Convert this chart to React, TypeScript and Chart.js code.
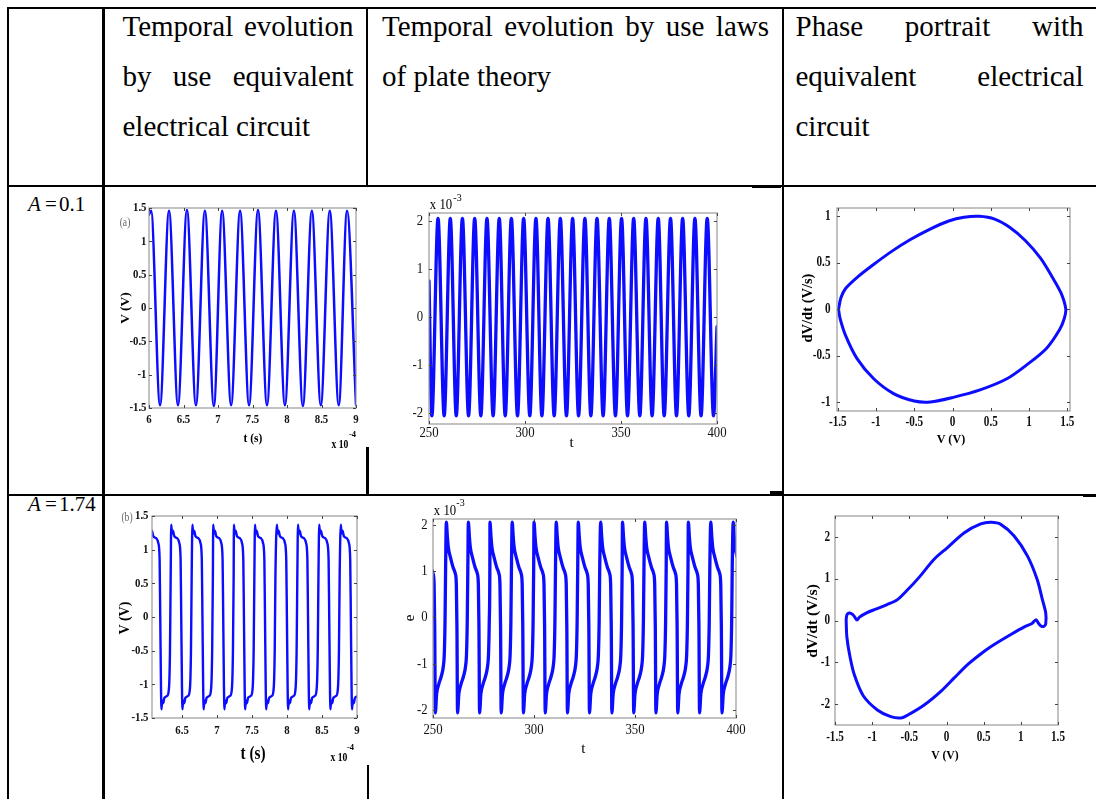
import React, { useEffect, useRef } from 'react';
import { Chart, registerables } from 'chart.js';

Chart.register(...registerables);

// ---------------- data ----------------
// (a) A = 0.1, equivalent circuit, V (V) vs t (x 1e-4 s)
const aTime = [6.00, 6.03, 6.16, 6.29, 6.42, 6.55, 6.68, 6.81, 6.94, 7.06, 7.19, 7.32, 7.45, 7.58, 7.71, 7.84, 7.97, 8.10, 8.23, 8.36, 8.49, 8.62, 8.75, 8.87, 9.00];
const aVolt = [1.40, 1.46, -1.46, 1.46, -1.46, 1.47, -1.46, 1.46, -1.47, 1.46, -1.46, 1.46, -1.46, 1.47, -1.46, 1.46, -1.46, 1.46, -1.47, 1.46, -1.46, 1.46, -1.46, 1.46, -1.45];
const aXTicks = [6, 6.5, 7, 7.5, 8, 8.5, 9];
const aYTicks = [-1.5, -1, -0.5, 0, 0.5, 1, 1.5];

// (b) A = 0.1, plate theory, strain (x 1e-3) vs t
const bTime = [250.0, 251.5, 254.7, 257.9, 261.1, 264.2, 267.4, 270.6, 273.8, 277.0, 280.2, 283.4, 286.6, 289.7, 292.9, 296.1, 299.3, 302.5, 305.7, 308.8, 312.0, 315.2, 318.4, 321.6, 324.8, 327.9, 331.2, 334.3, 337.5, 340.7, 343.9, 347.1, 350.3, 353.4, 356.6, 359.8, 363.0, 366.2, 369.4, 372.5, 375.8, 378.9, 382.1, 385.3, 388.5, 391.7, 394.9, 398.2, 400.0];
const bStrain = [0.75, -2.05, 2.05, -2.05, 2.05, -2.05, 2.05, -2.05, 2.05, -2.05, 2.05, -2.05, 2.05, -2.05, 2.05, -2.05, 2.05, -2.05, 2.05, -2.05, 2.05, -2.05, 2.05, -2.05, 2.05, -2.05, 2.05, -2.05, 2.05, -2.05, 2.05, -2.05, 2.05, -2.05, 2.05, -2.05, 2.05, -2.05, 2.05, -2.05, 2.05, -2.05, 2.05, -2.05, 2.05, -2.05, 2.05, -2.05, -0.20];
const bXTicks = [250, 300, 350, 400];
const bYTicks = [-2, -1, 0, 1, 2];

// (c) A = 0.1, phase portrait dV/dt vs V
const cV = [-1.49, -1.46, -1.40, -1.25, -1.05, -0.80, -0.55, -0.30, -0.05, 0.15, 0.35, 0.55, 0.75, 0.95, 1.15, 1.30, 1.42, 1.48, 1.46, 1.40, 1.23, 0.97, 0.71, 0.36, 0.01, -0.29, -0.50, -0.77, -1.03, -1.25, -1.40, -1.47, -1.49];
const cdVdt = [0.00, 0.12, 0.22, 0.34, 0.47, 0.62, 0.75, 0.86, 0.95, 0.99, 1.00, 0.97, 0.88, 0.74, 0.55, 0.35, 0.17, 0.00, -0.10, -0.22, -0.42, -0.60, -0.75, -0.87, -0.95, -1.00, -0.99, -0.91, -0.75, -0.53, -0.28, -0.10, 0.00];
const cXTicks = [-1.5, -1, -0.5, 0, 0.5, 1, 1.5];
const cYTicks = [-1, -0.5, 0, 0.5, 1];

// (d) A = 1.74, equivalent circuit: one cycle shape (offset from upper spike) and spike times
const dSpikeT = [6.045, 6.345, 6.648, 6.945, 7.241, 7.542, 7.855, 8.157, 8.460, 8.769];
const dShapeDt = [0, 0.010, 0.024, 0.043, 0.086, 0.115, 0.134, 0.143, 0.153, 0.160, 0.170, 0.184, 0.203, 0.244, 0.268, 0.282, 0.292];
const dShapeV = [1.37, 1.24, 1.28, 1.20, 1.17, 1.10, 0.85, 0.0, -1.0, -1.37, -1.24, -1.28, -1.20, -1.17, -1.05, -0.5, 0.6];
const dXTicks = [6.5, 7, 7.5, 8, 8.5, 9];
const dYTicks = [-1.5, -1, -0.5, 0, 0.5, 1, 1.5];

// (e) A = 1.74, plate theory: one cycle shape (offset from peak) and peak times
const ePeakT = [245.6, 256.6, 267.5, 278.2, 289.2, 300.0, 311.0, 321.9, 333.0, 343.8, 354.8, 365.6, 376.4, 387.5, 398.6];
const eShapeDt = [0, 0.5, 1.0, 2.0, 3.4, 4.4, 4.95, 5.25, 5.55, 6.2, 7.2, 8.5, 9.5, 10.0, 10.35, 10.65];
const eShapeV = [2.05, 1.75, 1.5, 1.3, 1.07, 0.95, 0.72, -0.2, -2.06, -1.65, -1.45, -1.27, -1.06, -0.78, -0.1, 1.1];
const eXTicks = [250, 300, 350, 400];
const eYTicks = [-2, -1, 0, 1, 2];

// (f) A = 1.74, phase portrait
const fV = [-1.35, -1.345, -1.33, -1.30, -1.26, -1.23, -1.205, -1.17, -1.10, -0.97, -0.80, -0.66, -0.52, -0.36, -0.17, 0.01, 0.24, 0.46, 0.60, 0.73, 0.91, 1.09, 1.22, 1.29, 1.335, 1.335, 1.31, 1.27, 1.235, 1.205, 1.15, 1.06, 0.86, 0.60, 0.46, 0.28, 0.10, -0.08, -0.30, -0.52, -0.61, -0.75, -0.93, -1.12, -1.24, -1.30, -1.34, -1.35];
const fdVdt = [0.00, 0.10, 0.16, 0.18, 0.14, 0.07, 0.01, 0.08, 0.16, 0.26, 0.38, 0.50, 0.74, 1.05, 1.46, 1.74, 2.10, 2.31, 2.35, 2.30, 2.02, 1.54, 0.98, 0.50, 0.18, -0.08, -0.14, -0.13, -0.06, 0.02, -0.07, -0.14, -0.34, -0.62, -0.80, -1.06, -1.38, -1.70, -2.02, -2.26, -2.33, -2.30, -2.14, -1.80, -1.30, -0.85, -0.40, 0.00];
const fXTicks = [-1.5, -1, -0.5, 0, 0.5, 1, 1.5];
const fYTicks = [-2, -1, 0, 1, 2];

// ---------------- helpers ----------------
const pairs = (xs: number[], ys: number[]) => xs.map((x, i) => ({ x, y: ys[i] }));
const repeatShape = (starts: number[], dt: number[], v: number[]) =>
  starts.flatMap((s) => dt.map((d, i) => ({ x: s + d, y: v[i] })));

const FONT = '"Liberation Serif", "Times New Roman", serif';
const BLUE = 'rgb(12,12,255)';
const PL = 48, PT = 12, PR = 22, PB = 26;

type Spec = {
  key: string;
  area: { l: number; t: number; r: number; b: number };
  xMin: number; xMax: number; yMin: number; yMax: number;
  xTicks: number[]; yTicks: number[];
  data: { x: number; y: number }[];
  lw: number; mono: boolean; tension: number; clip0: boolean;
  tickFont: string; squish: number; yGap: number; xDy: number;
};

function makeDeco(s: Spec) {
  return {
    id: 'deco' + s.key,
    afterDatasetsDraw(chart: any) {
      const { ctx, chartArea: a, scales } = chart;
      const xs = scales.x, ys = scales.y;
      ctx.save();
      // frame
      ctx.strokeStyle = '#9a9a9a';
      ctx.lineWidth = 1.2;
      ctx.strokeRect(a.left, a.top, a.right - a.left, a.bottom - a.top);
      // inner ticks
      const TL = 3;
      ctx.strokeStyle = '#444';
      ctx.lineWidth = 1;
      ctx.beginPath();
      for (const v of s.xTicks) {
        const px = Math.round(xs.getPixelForValue(v)) + 0.5;
        ctx.moveTo(px, a.bottom); ctx.lineTo(px, a.bottom - TL);
        ctx.moveTo(px, a.top); ctx.lineTo(px, a.top + TL);
      }
      for (const v of s.yTicks) {
        const py = Math.round(ys.getPixelForValue(v)) + 0.5;
        ctx.moveTo(a.left, py); ctx.lineTo(a.left + TL, py);
        ctx.moveTo(a.right, py); ctx.lineTo(a.right - TL, py);
      }
      ctx.stroke();
      // labels
      ctx.fillStyle = '#111';
      ctx.font = s.tickFont;
      ctx.textBaseline = 'middle';
      for (const v of s.yTicks) {
        const py = ys.getPixelForValue(v);
        ctx.save();
        ctx.translate(a.left - s.yGap, py);
        ctx.scale(s.squish, 1);
        ctx.textAlign = 'right';
        ctx.fillText(String(v), 0, 0);
        ctx.restore();
      }
      for (const v of s.xTicks) {
        const px = xs.getPixelForValue(v);
        ctx.save();
        ctx.translate(px, a.bottom + s.xDy);
        ctx.scale(s.squish, 1);
        ctx.textAlign = 'center';
        ctx.fillText(String(v), 0, 0);
        ctx.restore();
      }
      ctx.restore();
    },
  };
}

function Plot({ s }: { s: Spec }) {
  const ref = useRef<HTMLCanvasElement>(null);
  useEffect(() => {
    const c = ref.current;
    if (!c) return;
    const ds: any = {
      data: s.data,
      showLine: true,
      borderColor: BLUE,
      borderWidth: s.lw,
      pointRadius: 0,
      pointHoverRadius: 0,
      fill: false,
      tension: s.tension,
      cubicInterpolationMode: s.mono ? 'monotone' : 'default',
      borderJoinStyle: 'round',
      borderCapStyle: 'round',
    };
    if (s.clip0) ds.clip = 0;
    const chart = new Chart(c, {
      type: 'scatter',
      data: { datasets: [ds] },
      options: {
        responsive: false,
        animation: false,
        events: [],
        layout: { padding: { left: PL, top: PT, right: PR, bottom: PB } },
        plugins: { legend: { display: false }, tooltip: { enabled: false } },
        scales: {
          x: { type: 'linear', display: false, min: s.xMin, max: s.xMax },
          y: { type: 'linear', display: false, min: s.yMin, max: s.yMax },
        },
      } as any,
      plugins: [makeDeco(s) as any],
    });
    return () => chart.destroy();
  }, []);
  const w = s.area.r - s.area.l + PL + PR;
  const h = s.area.b - s.area.t + PT + PB;
  return (
    <canvas
      ref={ref}
      width={w}
      height={h}
      style={{ position: 'absolute', left: s.area.l - PL, top: s.area.t - PT, width: w, height: h }}
    />
  );
}

const BOLD13 = `bold 13.5px ${FONT}`;
const REG15 = `15px ${FONT}`;

const specs: Spec[] = [
  { key: 'a', area: { l: 149, t: 208, r: 356, b: 408 }, xMin: 6, xMax: 9, yMin: -1.5, yMax: 1.5,
    xTicks: aXTicks, yTicks: aYTicks, data: pairs(aTime, aVolt), lw: 2.5, mono: true, tension: 0, clip0: true,
    tickFont: BOLD13, squish: 0.8, yGap: 2.5, xDy: 12 },
  { key: 'b', area: { l: 429, t: 213, r: 717, b: 424 }, xMin: 250, xMax: 400, yMin: -2.22, yMax: 2.16,
    xTicks: bXTicks, yTicks: bYTicks, data: pairs(bTime, bStrain), lw: 3.3, mono: true, tension: 0, clip0: true,
    tickFont: REG15, squish: 0.85, yGap: 6, xDy: 9.5 },
  { key: 'c', area: { l: 837, t: 208, r: 1070, b: 411 }, xMin: -1.51, xMax: 1.535, yMin: -1.097, yMax: 1.09,
    xTicks: cXTicks, yTicks: cYTicks, data: pairs(cV, cdVdt), lw: 3, mono: false, tension: 0.3, clip0: false,
    tickFont: `bold 14px ${FONT}`, squish: 0.8, yGap: 6.5, xDy: 11.5 },
  { key: 'd', area: { l: 152, t: 516, r: 357, b: 718 }, xMin: 6.07, xMax: 9, yMin: -1.5, yMax: 1.5,
    xTicks: dXTicks, yTicks: dYTicks, data: repeatShape(dSpikeT, dShapeDt, dShapeV), lw: 2.4, mono: true, tension: 0, clip0: true,
    tickFont: BOLD13, squish: 0.8, yGap: 3.5, xDy: 12.5 },
  { key: 'e', area: { l: 433, t: 519, r: 736, b: 718 }, xMin: 250, xMax: 400, yMin: -2.17, yMax: 2.12,
    xTicks: eXTicks, yTicks: eYTicks, data: repeatShape(ePeakT, eShapeDt, eShapeV), lw: 3.3, mono: true, tension: 0, clip0: true,
    tickFont: REG15, squish: 0.85, yGap: 5.5, xDy: 12 },
  { key: 'f', area: { l: 835, t: 516, r: 1058, b: 725 }, xMin: -1.5, xMax: 1.5, yMin: -2.5, yMax: 2.5,
    xTicks: fXTicks, yTicks: fYTicks, data: pairs(fV, fdVdt), lw: 3, mono: false, tension: 0.3, clip0: false,
    tickFont: `bold 14px ${FONT}`, squish: 0.8, yGap: 5, xDy: 12 },
];

// ---------------- text helpers ----------------
function Txt(props: { x: number; y: number; size: number; bold?: boolean; italic?: boolean; rot?: number; sx?: number; color?: string; children: React.ReactNode }) {
  const { x, y, size, bold, italic, rot, sx, color, children } = props;
  const tf = `translate(-50%,-50%)${rot ? ` rotate(${rot}deg)` : ''}${sx ? ` scaleX(${sx})` : ''}`;
  return (
    <div style={{ position: 'absolute', left: x, top: y, transform: tf, fontFamily: FONT, fontSize: size,
      fontWeight: bold ? 'bold' : 'normal', fontStyle: italic ? 'italic' : 'normal', whiteSpace: 'nowrap',
      lineHeight: 1, color: color || '#000' }}>
      {children}
    </div>
  );
}

function Line({ l, t, w, h }: { l: number; t: number; w: number; h: number }) {
  return <div style={{ position: 'absolute', left: l, top: t, width: w, height: h, background: '#000' }} />;
}

function Header({ l, w, text }: { l: number; w: number; text: string }) {
  return (
    <div style={{ position: 'absolute', left: l, top: 1, width: w, fontFamily: FONT, fontSize: 29,
      lineHeight: '50px', textAlign: 'justify', color: '#000' }}>{text}</div>
  );
}

function RowLabel({ top, value }: { top: number; value: string }) {
  const st: React.CSSProperties = { position: 'absolute', top, fontFamily: FONT, fontSize: 21, lineHeight: '21px', color: '#000', whiteSpace: 'nowrap' };
  return (
    <>
      <div style={{ ...st, left: 28, fontStyle: 'italic' }}>A</div>
      <div style={{ ...st, left: 45 }}>=</div>
      <div style={{ ...st, left: 59 }}>{value}</div>
    </>
  );
}

export default function App() {
  return (
    <div style={{ position: 'absolute', left: 0, top: 0, width: 1096, height: 799, overflow: 'hidden', background: '#fff' }}>
      {/* table lines */}
      <Line l={7} t={6.5} w={1089} h={2} />
      <Line l={7} t={185} w={1089} h={2} />
      <Line l={7} t={493.5} w={1089} h={2} />
      <Line l={6.5} t={6.5} w={2.5} h={793} />
      <Line l={102} t={6.5} w={2.5} h={793} />
      <Line l={365.5} t={6.5} w={2} h={180} />
      <Line l={366} t={447} w={2.5} h={48} />
      <Line l={366.5} t={765} w={2.5} h={34} />
      <Line l={781.5} t={6.5} w={2.5} h={793} />
      <Line l={752} t={185} w={29} h={3} />
      <Line l={770} t={491} w={12} h={4} />
      <Line l={1083} t={493.5} w={13} h={3} />

      {/* header */}
      <Header l={122.5} w={231} text="Temporal evolution by use equivalent electrical circuit" />
      <Header l={382} w={387} text="Temporal evolution by use laws of plate theory" />
      <Header l={795.5} w={288} text="Phase portrait with equivalent electrical circuit" />

      {/* row labels */}
      <RowLabel top={194} value="0.1" />
      <RowLabel top={494} value="1.74" />

      {/* plots */}
      {specs.map((s) => <Plot key={s.key} s={s} />)}

      {/* (a) texts */}
      <Txt x={125} y={221.5} size={12} sx={0.8} color="#666">(a)</Txt>
      <Txt x={125} y={308} size={13.5} bold rot={-90}>V (V)</Txt>
      <Txt x={252.5} y={437.5} size={13.5} bold sx={0.85}>t (s)</Txt>
      <Txt x={340} y={443.5} size={12} bold sx={0.8}>x 10</Txt>
      <Txt x={352.5} y={433.5} size={8.5} bold>-4</Txt>

      {/* (b) texts */}
      <Txt x={440.8} y={203.5} size={15} sx={0.85}>x 10</Txt>
      <Txt x={457.5} y={197.5} size={10}>-3</Txt>
      <Txt x={571.7} y={441.7} size={15}>t</Txt>

      {/* (c) texts */}
      <Txt x={806.7} y={307.7} size={14.5} bold rot={-90}>dV/dt (V/s)</Txt>
      <Txt x={950.8} y={439.2} size={13.5} bold sx={0.9}>V (V)</Txt>

      {/* (d) texts */}
      <Txt x={127} y={516.7} size={12} sx={0.8} color="#666">(b)</Txt>
      <Txt x={125} y={617.5} size={14} bold rot={-90}>V (V)</Txt>
      <Txt x={252.5} y={753.3} size={18} bold sx={0.85}>t (s)</Txt>
      <Txt x={339} y={756.7} size={12} bold sx={0.8}>x 10</Txt>
      <Txt x={350.5} y={746.7} size={8.5} bold>-4</Txt>

      {/* (e) texts */}
      <Txt x={409.3} y={617.8} size={15} rot={-90}>e</Txt>
      <Txt x={444.7} y={510} size={15} sx={0.85}>x 10</Txt>
      <Txt x={460.5} y={502.7} size={10}>-3</Txt>
      <Txt x={583.3} y={747.5} size={15}>t</Txt>

      {/* (f) texts */}
      <Txt x={811.7} y={620.8} size={15.5} bold rot={-90}>dV/dt (V/s)</Txt>
      <Txt x={945} y={755} size={13.5} bold sx={0.87}>V (V)</Txt>
    </div>
  );
}
